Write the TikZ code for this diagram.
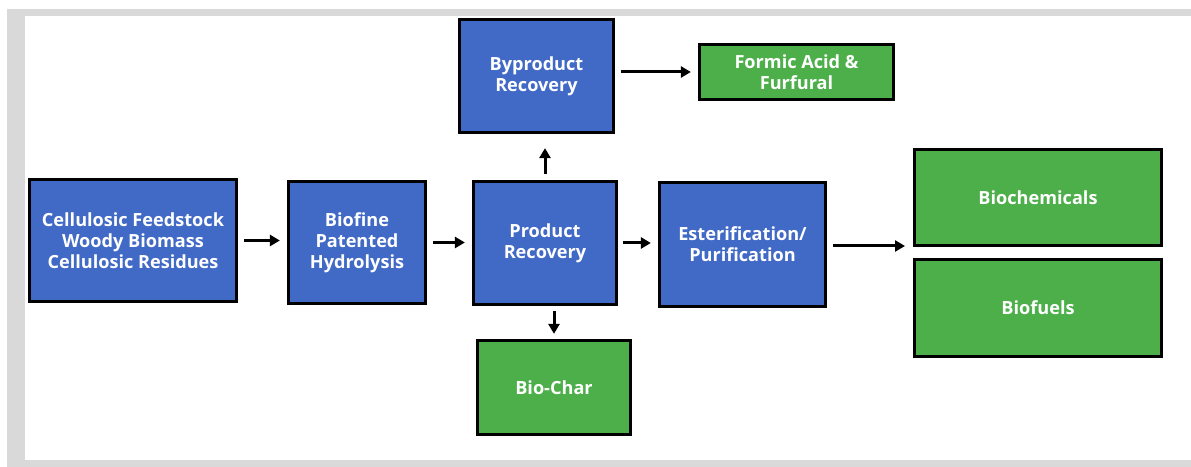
\documentclass[tikz,border=0pt]{standalone}
\usepackage{fontspec}
\setmainfont{Open Sans}
\usepackage{xcolor}
\usepackage{tikz}
\usetikzlibrary{arrows.meta, positioning}

\definecolor{procblue}{RGB}{65,105,198}
\definecolor{prodgreen}{RGB}{76,175,74}
\definecolor{framegray}{RGB}{217,217,217}

\begin{document}
\begin{tikzpicture}[
    x=1bp, y=-1bp,
    box/.style={rectangle, draw=black, line width=3.2bp, fill=procblue, text=white, align=center,
      font=\fontsize{18.2}{21}\selectfont\bfseries, inner sep=2bp},
    boxg/.style={box, fill=prodgreen},
    arrow/.style={-{Triangle[length=10bp, width=11bp]}, line width=3bp, shorten <=6bp, shorten >=7bp}
  ]
    \useasboundingbox (0,0) rectangle (1191,467);
    % grey frame
    \fill[framegray] (7,9) rectangle (1191,16);
    \fill[framegray] (7,9) rectangle (25,467);
    \fill[framegray] (7,460) rectangle (1191,467);

    \node[box, minimum width=207bp, minimum height=122bp] (feed) at (133,240.5) {Cellulosic Feedstock\\Woody Biomass\\Cellulosic Residues};
    \node[box, minimum width=137bp, minimum height=122bp] (hydro) at (357,242.5) {Biofine\\Patented\\Hydrolysis};
    \node[box, minimum width=143bp, minimum height=123bp] (prodrec) at (545,243) {Product\\Recovery};
    \node[box, minimum width=166bp, minimum height=124bp] (ester) at (742.5,244.5) {Esterification/\\Purification};
    \node[box, minimum width=154bp, minimum height=113bp] (byprod) at (536.5,76) {Byproduct\\Recovery};
    \node[boxg, minimum width=194bp, minimum height=55bp] (formic) at (796.5,72) {Formic Acid \&\\Furfural};
    \node[boxg, minimum width=247bp, minimum height=96bp] (biochem) at (1038,197.5) {Biochemicals};
    \node[boxg, minimum width=247bp, minimum height=97bp] (biofuel) at (1038,308) {Biofuels};
    \node[boxg, minimum width=153bp, minimum height=94bp] (biochar) at (554,387.5) {Bio-Char};
    \coordinate (fork) at (905,246);

    \draw[arrow] (feed.east) -- (feed.east -| hydro.west);
    \draw[arrow] (hydro.east) -- (hydro.east -| prodrec.west);
    \draw[arrow, shorten <=5bp] (prodrec.east) -- (prodrec.east -| ester.west);
    \draw[arrow, shorten >=0bp] (ester.east |- fork) -- (fork);
    \draw[arrow, shorten <=6bp, shorten >=14bp] (prodrec.north) -- (prodrec.north |- byprod.south);
    \draw[arrow, shorten <=5bp, shorten >=5bp] (biochar.north |- prodrec.south) -- (biochar.north);
    \draw[arrow] (byprod.east |- formic.west) -- (formic.west);
  \end{tikzpicture}
\end{document}
